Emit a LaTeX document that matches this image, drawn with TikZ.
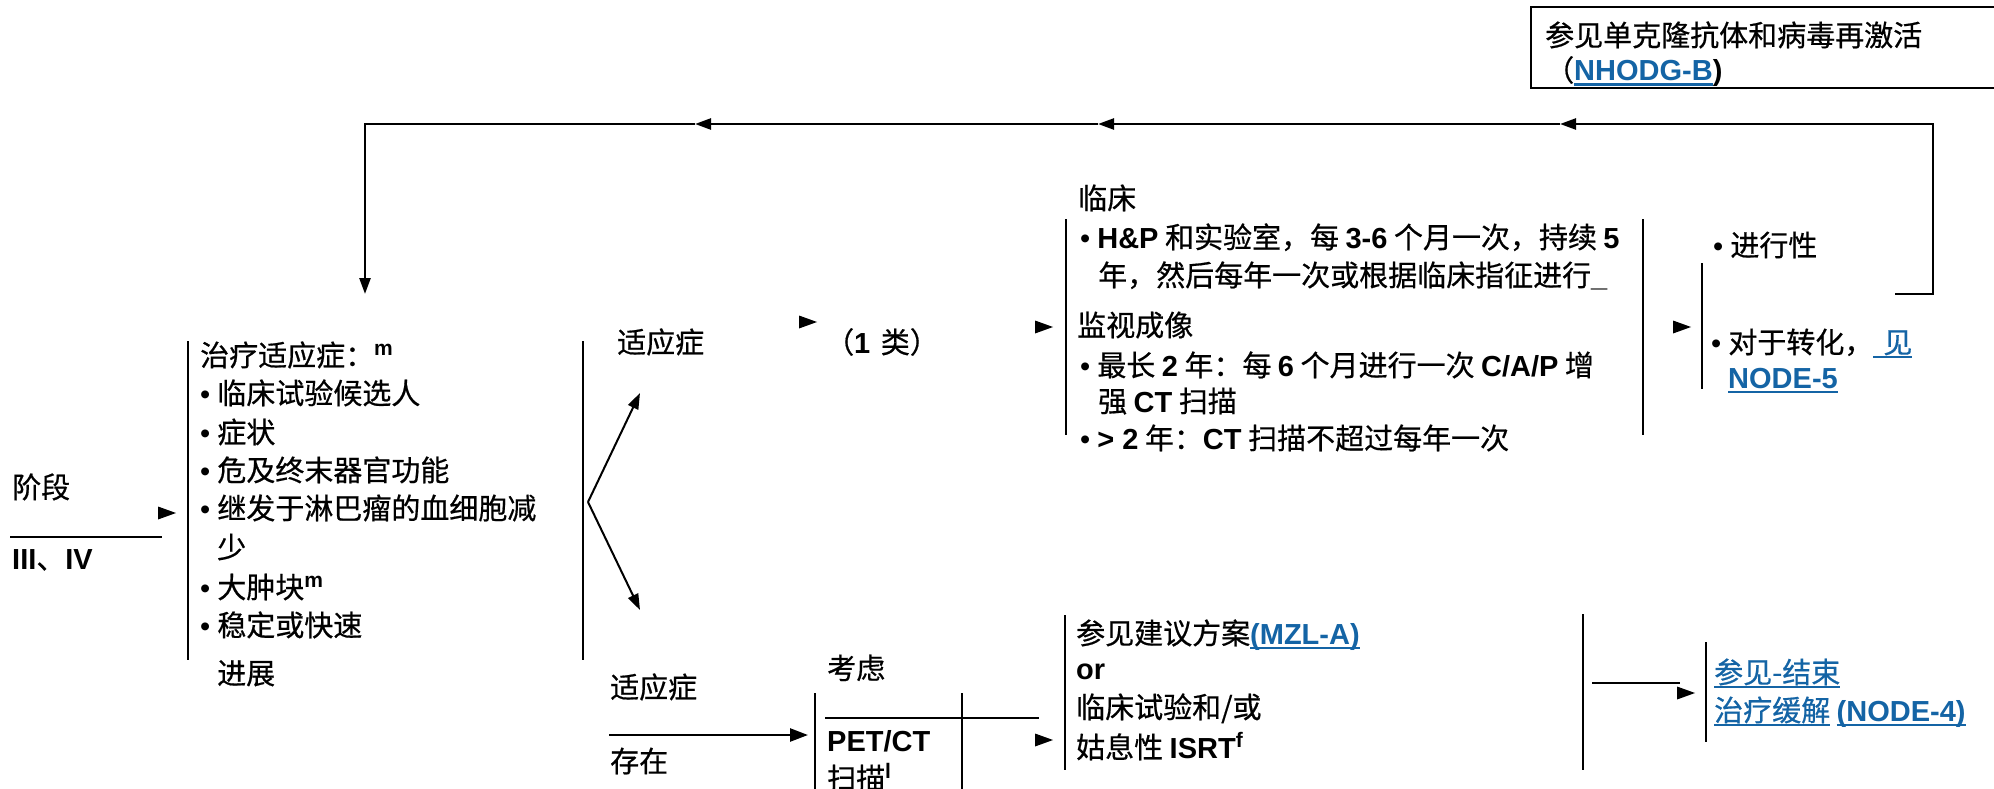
\documentclass[tikz,border=0pt]{standalone}
\usepackage{fontspec}
\setmainfont{Noto Sans CJK SC}[FakeBold=0.6]
\newfontfamily\ar{Liberation Sans}
\usetikzlibrary{arrows.meta}
\definecolor{lnk}{RGB}{20,100,165}
\newcommand\bL[1]{{\ar\bfseries #1}}
\newcommand\bu{{\ar\textbullet}\hspace{7pt}}
\newcommand\sups[1]{\raisebox{11pt}{\fontsize{21}{21}\selectfont\ar\bfseries #1}}
\newsavebox\lnkbox
\newcommand\lnk[1]{{\color{lnk}\sbox\lnkbox{#1}\rlap{\rule[-5pt]{\wd\lnkbox}{2.5pt}}\usebox\lnkbox}}
\newcommand\tri[1]{\fill (#1) -- ++(-18,-6.5) -- ++(0,13) -- cycle;}
\begin{document}
\begin{tikzpicture}[x=1pt,y=-1pt,
  t/.style={anchor=base west,inner sep=0pt,yshift=-11pt,font=\fontsize{29}{34}\selectfont},
  bar/.style={line width=2.7pt},
  ln/.style={line width=2.5pt},
  arr/.style={line width=2.5pt,-{Triangle[length=16pt,width=11pt]}},
  thinarr/.style={line width=2pt,-{Triangle[length=16pt,width=11pt]}},
  arrb/.style={line width=2.5pt,-{Triangle[length=18pt,width=13pt]}},
]
\useasboundingbox (0,0) rectangle (1994,789);

% top right box
\draw[ln] (1996,7) -- (1531,7) -- (1531,88) -- (1996,88);
\node[t] (mab1) at (1545,35) {参见单克隆抗体和病毒再激活};
\node[t] (mab2) at (1545,70) {（\lnk{\bL{NHODG-B}}\bL{)}};

% loop
\coordinate (l0) at (1895,294);
\coordinate (l1) at (1933,294);
\coordinate (l2) at (1933,124);
\coordinate (a3) at (1560,124);
\coordinate (a2) at (1098,124);
\coordinate (a1) at (695,124);
\coordinate (l3) at (365,124);
\coordinate (l4) at (365,294);
\draw[arr] (l0) -- (l1) -- (l2) -- (a3);
\draw[arr] (a3) -- (a2);
\draw[arr] (a2) -- (a1);
\draw[arr] (a1) -- (l3) -- (l4);

% left
\node[t] (stage) at (12,487) {阶段};
\draw[ln] (10,537) -- (162,537);
\node[t] (stage34) at (12,558) {\bL{III}、\bL{IV}};
\tri{176,513}
\draw[bar] (188,341) -- (188,660);
\node[t] (ind) at (200,355) {治疗适应症：\sups{m}};
\node[t] (i1) at (200,393) {\bu 临床试验候选人};
\node[t] (i2) at (200,432) {\bu 症状};
\node[t] (i3) at (200,470) {\bu 危及终末器官功能};
\node[t] (i4) at (200,508) {\bu 继发于淋巴瘤的血细胞减};
\node[t] (i4b) at (217,547) {少};
\node[t] (i5) at (200,587) {\bu 大肿块\sups{m}};
\node[t] (i6) at (200,625) {\bu 稳定或快速};
\node[t] (i6b) at (217,673) {进展};
\draw[bar] (583,341) -- (583,660);

% fork
\coordinate (fk) at (588,502);
\coordinate (fu) at (640,393);
\coordinate (fd) at (640,610);
\draw[thinarr] (fk) -- (fu);
\draw[thinarr] (fk) -- (fd);

\node[t] (yes) at (617,342) {适应症};
\tri{817,322}
\node[t] (cat1) at (825,342) {（\bL{1}\hspace{4pt} 类）};
\tri{1053,327}

% top middle block
\node[t] (clin) at (1078,198) {临床};
\draw[bar] (1066,219) -- (1066,435);
\draw[bar] (1643,219) -- (1643,435);
\node[t] (c1) at (1080,237) {\bu\bL{H\&P} 和实验室，每 \bL{3-6} 个月一次，持续 \bL{5}};
\node[t] (c2) at (1098,275) {年，然后每年一次或根据临床指征进行\bL{\_}};
\node[t] (img) at (1077,325) {监视成像};
\node[t] (c3) at (1080,365) {\bu 最长 \bL{2} 年：每 \bL{6} 个月进行一次 \bL{C/A/P} 增};
\node[t] (c4) at (1098,401) {强 \bL{CT} 扫描};
\node[t] (c5) at (1080,438) {\bu\bL{> 2} 年：\bL{CT} 扫描不超过每年一次};

% right
\tri{1691,327}
\draw[bar] (1702,263) -- (1702,389);
\node[t] (prog) at (1713,245) {\bu 进行性};
\node[t] (trans) at (1711,342) {\bu 对于转化，\lnk{\hspace{10pt}见}};
\node[t] (node5) at (1728,377) {\lnk{\bL{NODE-5}}};

% bottom
\node[t] (yes2) at (610,687) {适应症};
\coordinate (e0) at (609,735);
\coordinate (e1) at (808,735);
\draw[arrb] (e0) -- (e1);
\node[t] (exist) at (610,761) {存在};
\node[t] (consider) at (827,668) {考虑};
\draw[bar] (815,693) -- (815,795);
\draw[ln] (825,718) -- (1039,718);
\draw[bar] (962,693) -- (962,795);
\node[t] (pet) at (827,740) {\bL{PET/CT}};
\node[t] (scan) at (827,778) {扫描\sups{l}};
\tri{1053,740}
\draw[bar] (1065,615) -- (1065,770);
\node[t] (r1) at (1076,633) {参见建议方案\lnk{\bL{(MZL-A)}}};
\node[t] (r2) at (1076,668) {\bL{or}};
\node[t] (r3) at (1076,707) {临床试验和/或};
\node[t] (r4) at (1076,747) {姑息性 \bL{ISRT}\sups{f}};
\draw[bar] (1583,614) -- (1583,770);
\coordinate (m0) at (1592,683);
\coordinate (m1) at (1680,683);
\draw[ln] (m0) -- (m1);
\tri{1695,693}
\draw[bar] (1706,642) -- (1706,742);
\node[t] (end1) at (1714,672) {\lnk{参见-结束}};
\node[t] (end2) at (1714,710) {\lnk{治疗缓解} \lnk{\bL{(NODE-4)}}};
\end{tikzpicture}
\end{document}
